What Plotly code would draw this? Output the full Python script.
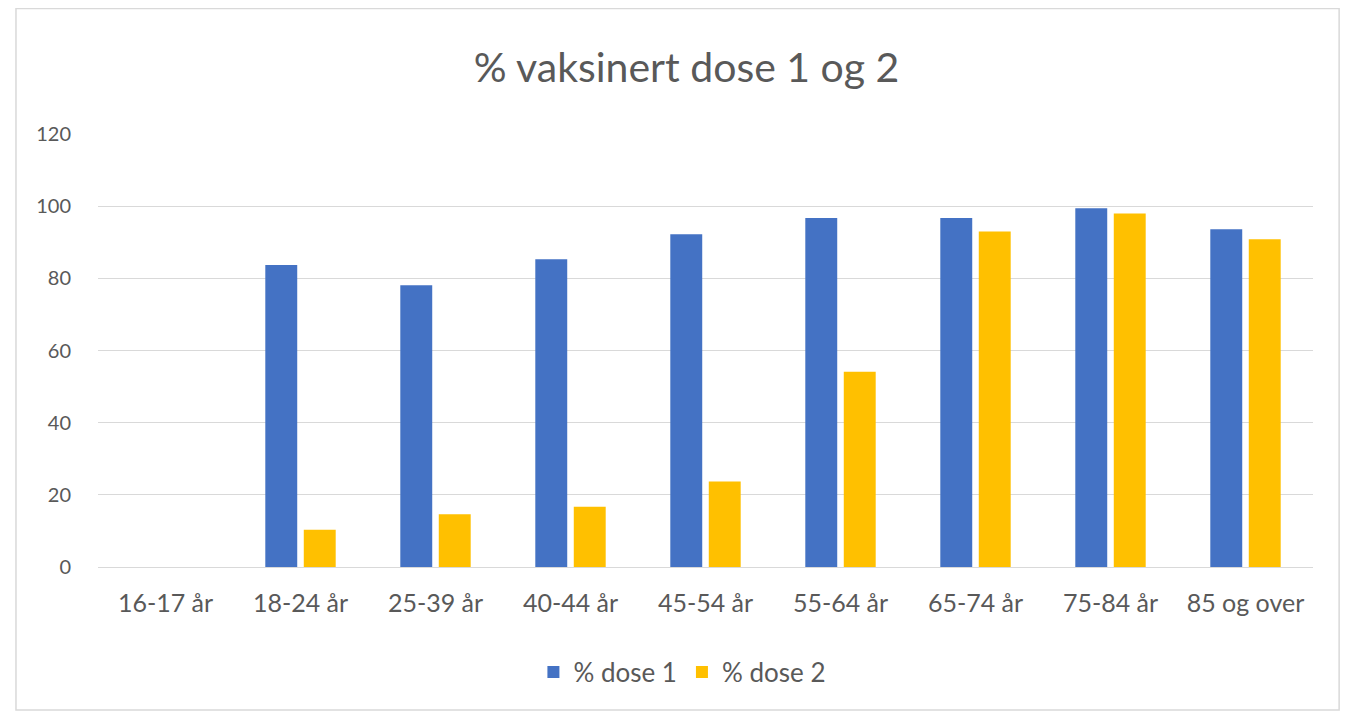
import plotly.graph_objects as go

categories = ["16-17 år", "18-24 år", "25-39 år", "40-44 år", "45-54 år",
              "55-64 år", "65-74 år", "75-84 år", "85 og over"]
dose1 = [0, 83.7, 78.1, 85.3, 92.2, 96.7, 96.7, 99.4, 93.6]
dose2 = [0, 10.3, 14.6, 16.7, 23.7, 54.1, 93.0, 98.0, 90.8]
y_ticks = [0, 20, 40, 60, 80, 100, 120]

FONT = "Lato, 'Open Sans', sans-serif"
GRAY = "#595959"

fig = go.Figure()
fig.add_trace(go.Bar(name="% dose 1", x=categories, y=dose1,
                     marker=dict(color="#4472C4", line=dict(width=0))))
fig.add_trace(go.Bar(name="% dose 2", x=categories, y=dose2,
                     marker=dict(color="#FFC000", line=dict(width=0))))

fig.update_layout(
    width=1341, height=707,
    paper_bgcolor="white", plot_bgcolor="white",
    margin=dict(l=90, r=36, t=126, b=148),
    barmode="group", bargap=0.43, bargroupgap=0.17,
    title=dict(text="% vaksinert dose 1 og 2", x=0.506, xanchor="center",
               y=0.915, yanchor="middle",
               font=dict(family=FONT, size=41, color=GRAY)),
    font=dict(family=FONT, color=GRAY, size=18),
    legend=dict(orientation="h", x=0.481, xanchor="center", y=-0.243, yanchor="middle",
                font=dict(family=FONT, size=26, color=GRAY), itemwidth=30,
                traceorder="normal"),
    xaxis=dict(showgrid=False, showline=False, ticks="", tickfont=dict(size=25, color=GRAY),
               ticklabelstandoff=19),
    yaxis=dict(range=[0, 120], tickvals=y_ticks, showgrid=True, gridcolor="#D9D9D9",
               gridwidth=1, zeroline=True, zerolinecolor="#D9D9D9", zerolinewidth=1,
               showline=False, ticks="", tickfont=dict(size=20, color=GRAY),
               ticklabelstandoff=26),
    shapes=[dict(type="rect", xref="paper", yref="paper",
                 x0=-0.0675, x1=1.0215, y0=-0.33, y1=1.29,
                 line=dict(color="#D9D9D9", width=1.5), fillcolor="rgba(0,0,0,0)",
                 layer="below")],
)

fig.write_html("out.html")
